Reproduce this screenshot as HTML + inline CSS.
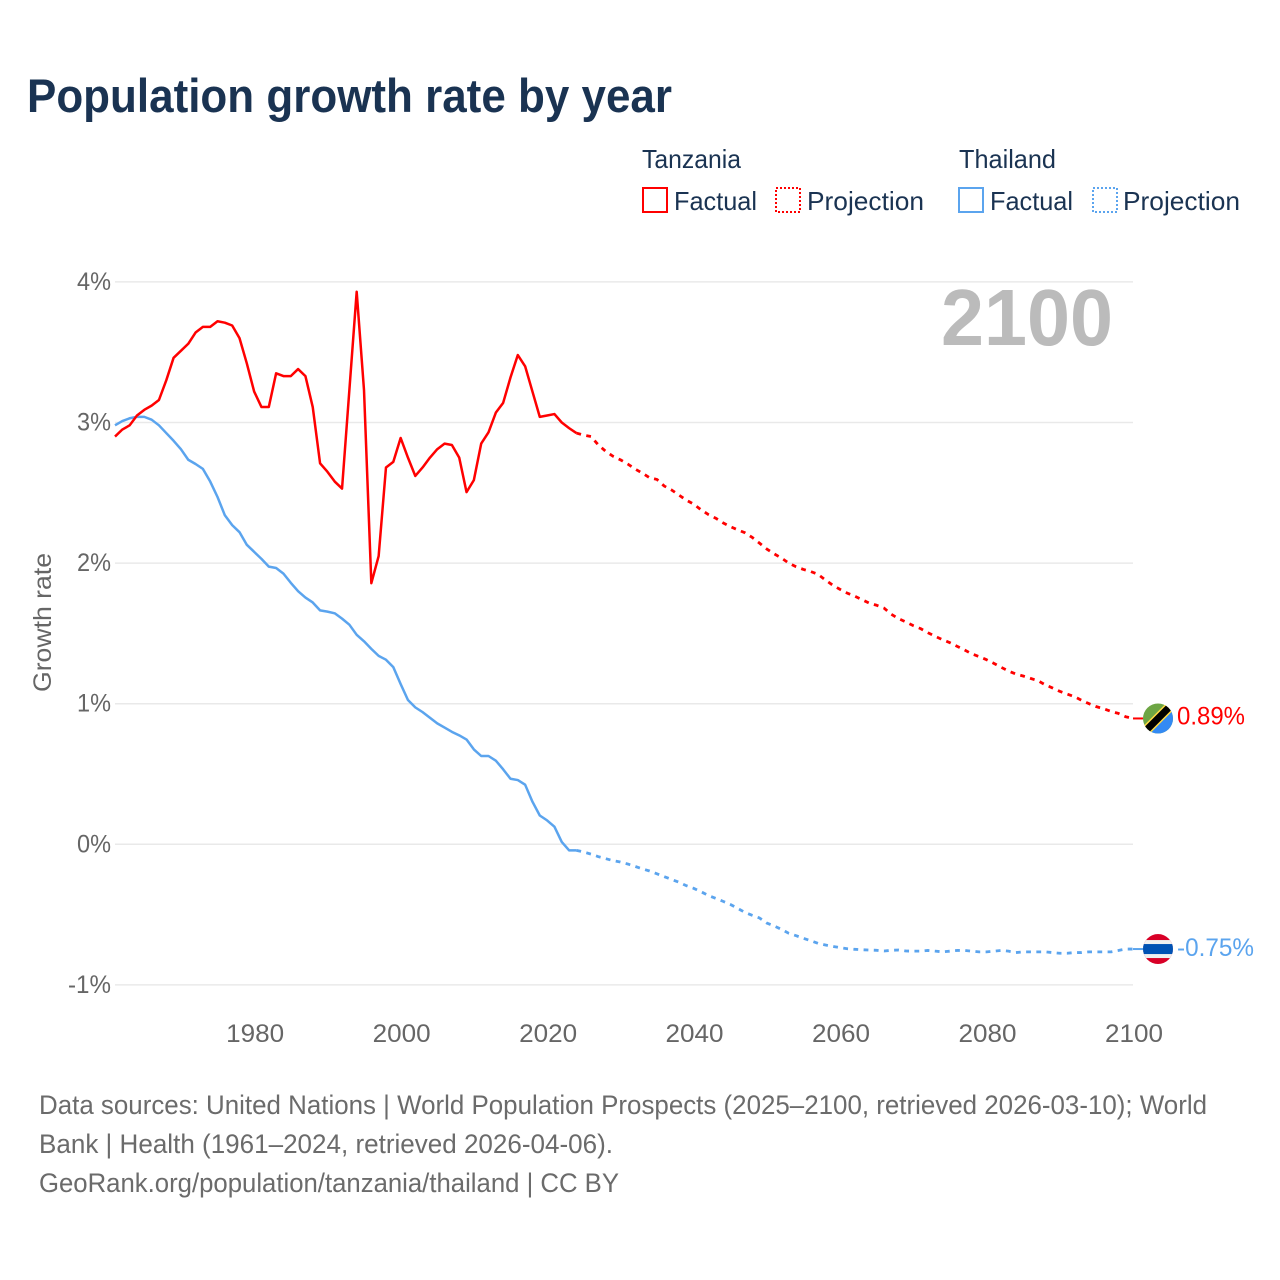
<!DOCTYPE html>
<html lang="en">
<head>
<meta charset="utf-8">
<title>Population growth rate by year</title>
<style>
  html, body { margin: 0; padding: 0; background: #fff; }
  svg { display: block; font-family: "Liberation Sans", Arial, sans-serif; }
</style>
</head>
<body>
<svg id="chart" width="1280" height="1280" viewBox="0 0 1280 1280" xmlns="http://www.w3.org/2000/svg">
  <rect width="1280" height="1280" fill="#fff"/>
  <text x="27" y="112" font-size="47" font-weight="700" fill="#1a3352" textLength="645" lengthAdjust="spacingAndGlyphs">Population growth rate by year</text>

  <g font-size="26" fill="#1a3352">
    <text x="642" y="168" textLength="99" lengthAdjust="spacingAndGlyphs">Tanzania</text>
    <text x="959" y="168" textLength="97" lengthAdjust="spacingAndGlyphs">Thailand</text>
    <g>
      <rect x="643" y="188" width="24" height="24" fill="none" stroke="#ff0000" stroke-width="2"/>
      <text x="674" y="210" textLength="83" lengthAdjust="spacingAndGlyphs">Factual</text>
    </g>
    <g>
      <rect x="776" y="188" width="24" height="24" fill="none" stroke="#ff0000" stroke-width="2" stroke-dasharray="2 2"/>
      <text x="807" y="210" textLength="117" lengthAdjust="spacingAndGlyphs">Projection</text>
    </g>
    <g>
      <rect x="959" y="188" width="24" height="24" fill="none" stroke="#5ba4ee" stroke-width="2"/>
      <text x="990" y="210" textLength="83" lengthAdjust="spacingAndGlyphs">Factual</text>
    </g>
    <g>
      <rect x="1093" y="188" width="24" height="24" fill="none" stroke="#5ba4ee" stroke-width="2" stroke-dasharray="2 2"/>
      <text x="1123" y="210" textLength="117" lengthAdjust="spacingAndGlyphs">Projection</text>
    </g>
  </g>

  <g id="grid"></g>
  <g id="yticks" font-size="25" fill="#666"></g>
  <g id="xticks" font-size="25" fill="#666"></g>
  <text transform="translate(51,692) rotate(-90)" font-size="25" fill="#666" textLength="139" lengthAdjust="spacingAndGlyphs">Growth rate</text>
  <text x="941" y="345" font-size="80" font-weight="700" fill="#bbbbbb" textLength="172" lengthAdjust="spacingAndGlyphs">2100</text>

  <g id="series"></g>

  <defs>
    <clipPath id="flag-clip"><circle cx="0" cy="0" r="15"/></clipPath>
  </defs>
  <g id="flag-tz" clip-path="none">
    <g clip-path="url(#flag-clip)">
      <rect x="-15" y="-15" width="30" height="30" fill="#6da544"/>
      <polygon points="15,-15 15,15 -15,15" fill="#338af3"/>
      <line x1="-15" y1="15" x2="15" y2="-15" stroke="#ffda44" stroke-width="10"/>
      <line x1="-15" y1="15" x2="15" y2="-15" stroke="#000" stroke-width="7"/>
    </g>
  </g>
  <g id="flag-th">
    <g clip-path="url(#flag-clip)">
      <rect x="-15" y="-15" width="30" height="30" fill="#d80027"/>
      <rect x="-15" y="-9" width="30" height="18" fill="#f0f0f0"/>
      <rect x="-15" y="-5" width="30" height="10" fill="#0052b4"/>
    </g>
  </g>
  <g id="end-labels" font-size="25"></g>

  <g font-size="27" fill="#6b6b6b">
    <text x="39" y="1114" textLength="1168" lengthAdjust="spacingAndGlyphs">Data sources: United Nations | World Population Prospects (2025–2100, retrieved 2026-03-10); World</text>
    <text x="39" y="1153" textLength="574" lengthAdjust="spacingAndGlyphs">Bank | Health (1961–2024, retrieved 2026-04-06).</text>
    <text x="39" y="1192" textLength="580" lengthAdjust="spacingAndGlyphs">GeoRank.org/population/tanzania/thailand | CC BY</text>
  </g>
</svg>

<script>
const factualStartYear = 1961;
const projectionStartYear = 2024;

const tanzaniaFactual = [
  2.90,2.95,2.98,3.05,3.09,3.12,3.16,3.30,3.46,3.51,
  3.56,3.64,3.68,3.68,3.72,3.71,3.69,3.60,3.42,3.22,
  3.11,3.11,3.35,3.33,3.33,3.38,3.33,3.11,2.71,2.65,
  2.58,2.53,3.23,3.93,3.23,1.857,2.05,2.68,2.72,2.89,
  2.75,2.62,2.68,2.75,2.81,2.85,2.84,2.75,2.505,2.59,
  2.85,2.93,3.07,3.14,3.32,3.48,3.40,3.22,3.04,3.05,
  3.06,3.00,2.96,2.925
];
const tanzaniaProjection = [
  2.925,2.91,2.90,2.84,2.795,2.76,2.735,2.705,2.67,2.64,
  2.607,2.595,2.548,2.52,2.484,2.448,2.42,2.38,2.346,2.32,
  2.287,2.26,2.237,2.216,2.183,2.142,2.10,2.066,2.036,2.00,
  1.974,1.955,1.94,1.92,1.88,1.843,1.813,1.786,1.765,1.74,
  1.715,1.70,1.68,1.636,1.605,1.581,1.555,1.534,1.505,1.479,
  1.455,1.434,1.408,1.382,1.354,1.335,1.313,1.287,1.259,1.232,
  1.211,1.197,1.18,1.164,1.135,1.112,1.088,1.069,1.05,1.024,
  1.00,.979,.964,.945,.931,.907,.895
];
const thailandFactual = [
  2.98,3.01,3.03,3.04,3.04,3.02,2.98,2.925,2.87,2.81,
  2.735,2.705,2.67,2.58,2.47,2.34,2.27,2.22,2.13,2.08,
  2.03,1.975,1.965,1.925,1.86,1.80,1.755,1.72,1.664,1.655,
  1.643,1.605,1.562,1.49,1.444,1.39,1.34,1.313,1.26,1.14,
  1.026,.974,.94,.90,.86,.83,.80,.775,.745,.675,
  .628,.628,.595,.533,.466,.457,.424,.303,.205,.17,
  .125,.017,-.043,-.043
];
const thailandProjection = [
  -.043,-.055,-.07,-.088,-.102,-.116,-.126,-.14,-.157,-.175,
  -.19,-.21,-.23,-.25,-.27,-.294,-.313,-.337,-.363,-.384,
  -.405,-.427,-.455,-.484,-.505,-.524,-.56,-.581,-.605,-.633,
  -.65,-.669,-.686,-.705,-.716,-.726,-.735,-.743,-.747,-.75,
  -.752,-.754,-.759,-.754,-.752,-.759,-.76,-.76,-.755,-.76,
  -.765,-.76,-.755,-.755,-.76,-.765,-.765,-.76,-.755,-.76,
  -.77,-.765,-.765,-.765,-.765,-.77,-.775,-.775,-.77,-.77,
  -.765,-.765,-.765,-.765,-.755,-.745,-.745
];
const yTickValues = [4, 3, 2, 1, 0, -1];
const yTickLabels = ['4%', '3%', '2%', '1%', '0%', '-1%'];
const xTickYears = [1980, 2000, 2020, 2040, 2060, 2080, 2100];
const xTickLabels = ['1980', '2000', '2020', '2040', '2060', '2080', '2100'];
const endValueLabels = ['0.89%', '-0.75%'];

const SVG_NS = 'http://www.w3.org/2000/svg';
const RED = '#ff0000';
const BLUE = '#5ba4ee';

function xScale(year) { return 115 + (year - 1961) * (1018 / 139); }
function yScale(v) { return 844.3 - v * 140.6; }

function linePoints(values, startYear) {
  return values.map(function (v, i) {
    return xScale(startYear + i).toFixed(2) + ',' + yScale(v).toFixed(2);
  }).join(' ');
}

function addSeries(name, values, startYear, color, dashed) {
  const el = document.createElementNS(SVG_NS, 'polyline');
  
  
  el.setAttribute('points', linePoints(values, startYear));
  el.setAttribute('fill', 'none');
  el.setAttribute('stroke', color);
  el.setAttribute('stroke-width', dashed ? '2.8' : '2.5');
  el.setAttribute('stroke-linejoin', 'round');
  if (dashed) el.setAttribute('stroke-dasharray', '4.8 5.4');
  document.getElementById('series').appendChild(el);
}

function addTail(name, lastValue, color) {
  const el = document.createElementNS(SVG_NS, 'line');
  
  
  el.setAttribute('x1', xScale(2100));
  el.setAttribute('x2', xScale(2100) + 10);
  el.setAttribute('y1', yScale(lastValue));
  el.setAttribute('y2', yScale(lastValue));
  el.setAttribute('stroke', color);
  el.setAttribute('stroke-width', '2');
  document.getElementById('series').appendChild(el);
}

yTickValues.forEach(function (v, i) {
  const grid = document.createElementNS(SVG_NS, 'line');
  
  
  grid.setAttribute('x1', xScale(1961));
  grid.setAttribute('x2', xScale(2100));
  grid.setAttribute('y1', yScale(v));
  grid.setAttribute('y2', yScale(v));
  grid.setAttribute('stroke', '#e9e9e9');
  grid.setAttribute('stroke-width', '1.5');
  document.getElementById('grid').appendChild(grid);

  const label = document.createElementNS(SVG_NS, 'text');
  
  
  label.setAttribute('x', 111);
  label.setAttribute('y', yScale(v) + 8);
  label.setAttribute('text-anchor', 'end');
  label.setAttribute('textLength', yTickLabels[i].length === 2 ? '34' : '43');
  label.setAttribute('lengthAdjust', 'spacingAndGlyphs');
  label.textContent = yTickLabels[i];
  document.getElementById('yticks').appendChild(label);
});

xTickYears.forEach(function (year, i) {
  const label = document.createElementNS(SVG_NS, 'text');
  
  
  label.setAttribute('x', xScale(year) + 1);
  label.setAttribute('y', 1042);
  label.setAttribute('text-anchor', 'middle');
  label.setAttribute('textLength', '58');
  label.setAttribute('lengthAdjust', 'spacingAndGlyphs');
  label.textContent = xTickLabels[i];
  document.getElementById('xticks').appendChild(label);
});

addSeries('thailand-factual-line', thailandFactual, factualStartYear, BLUE, false);
addSeries('thailand-projection-line', thailandProjection, projectionStartYear, BLUE, true);
addSeries('tanzania-factual-line', tanzaniaFactual, factualStartYear, RED, false);
addSeries('tanzania-projection-line', tanzaniaProjection, projectionStartYear, RED, true);

const tzLast = tanzaniaProjection[tanzaniaProjection.length - 1];
const thLast = thailandProjection[thailandProjection.length - 1];
addTail('tanzania-end-connector', tzLast, RED);
addTail('thailand-end-connector', thLast, BLUE);

document.getElementById('flag-tz').setAttribute('transform', 'translate(' + (xScale(2100) + 25) + ',' + yScale(tzLast) + ')');
document.getElementById('flag-th').setAttribute('transform', 'translate(' + (xScale(2100) + 25) + ',' + yScale(thLast) + ')');

const tzEnd = document.createElementNS(SVG_NS, 'text');


tzEnd.setAttribute('x', 1177);
tzEnd.setAttribute('y', yScale(tzLast) + 6);
tzEnd.setAttribute('fill', RED);
tzEnd.setAttribute('textLength', '68');
tzEnd.setAttribute('lengthAdjust', 'spacingAndGlyphs');
tzEnd.textContent = endValueLabels[0];
document.getElementById('end-labels').appendChild(tzEnd);

const thEnd = document.createElementNS(SVG_NS, 'text');


thEnd.setAttribute('x', 1177);
thEnd.setAttribute('y', yScale(thLast) + 7);
thEnd.setAttribute('fill', BLUE);
thEnd.setAttribute('textLength', '77');
thEnd.setAttribute('lengthAdjust', 'spacingAndGlyphs');
thEnd.textContent = endValueLabels[1];
document.getElementById('end-labels').appendChild(thEnd);
</script>
</body>
</html>
